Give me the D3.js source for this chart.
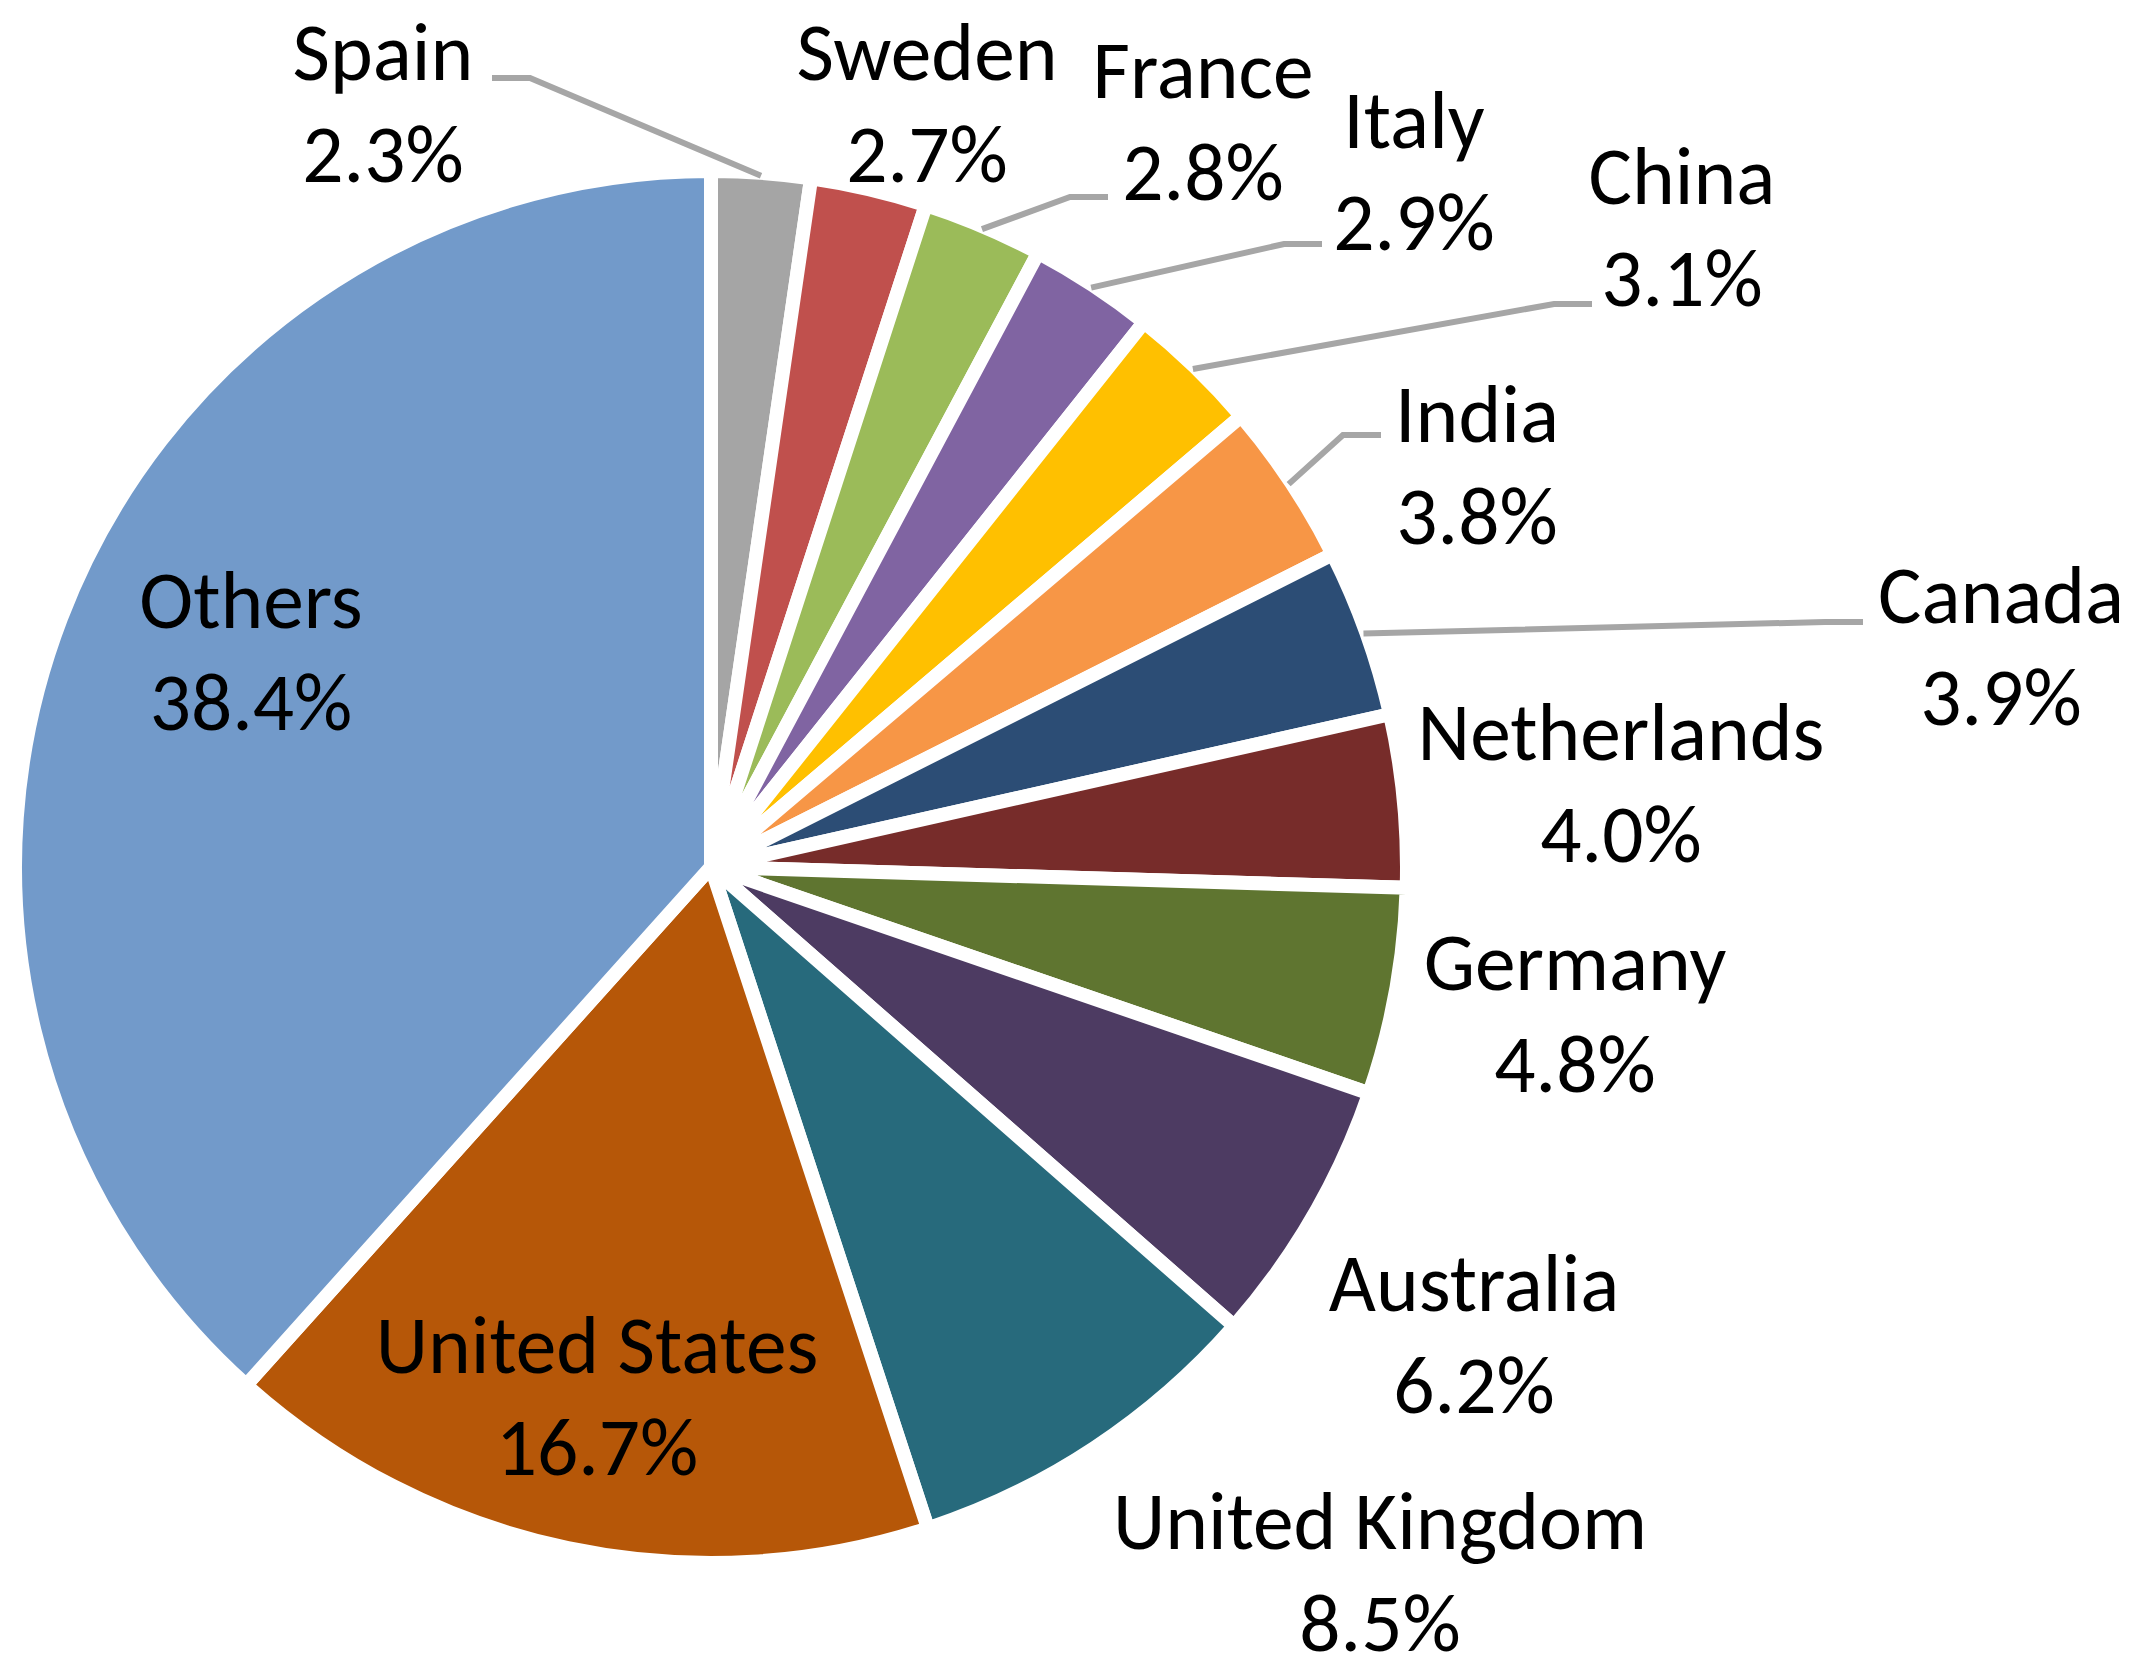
<!DOCTYPE html>
<html><head><meta charset="utf-8">
<script src="https://cdn.jsdelivr.net/npm/d3@7"></script>
<style>html,body{margin:0;padding:0;background:#fff;} svg{display:block}</style>
</head><body>
<script>
// ---- data ----
const categories = ["Spain","Sweden","France","Italy","China","India","Canada","Netherlands","Germany","Australia","United Kingdom","United States","Others"];
const shares = [2.3,2.7,2.8,2.9,3.1,3.8,3.9,4.0,4.8,6.2,8.5,16.7,38.4];
const colors = ["#A5A5A5","#C0504D","#9BBB59","#8064A2","#FFC000","#F79646","#2C4D75","#772C2A","#5F7530","#4D3B62","#276A7C","#B65708","#729ACA"];

// ---- layout (label placement, page px: centre x, first baseline y) ----
const labelX = [383, 927, 1203, 1414, 1682, 1477, 2001, 1621, 1575, 1474, 1380, 597, 251];
const labelY = [80, 80, 98, 148, 204, 442, 623, 760, 990, 1311, 1549, 1373, 628];
// leader lines: [end x, end y, knee direction]
const leaders = {
  "Spain":  [492, 78, 1],
  "France": [1108, 197, -1],
  "Italy":  [1322, 244, -1],
  "China":  [1592, 304, -1],
  "India":  [1381, 435, -1],
  "Canada": [1863, 622, -1]
};

const W = 2138, H = 1680;
const cx = 711, cy = 867, R = 696, strokeW = 14;
const lineGap = 102;

const svg = d3.select("body").append("svg").attr("width", W).attr("height", H);

const data = categories.map((c, i) => ({name: c, value: shares[i], color: colors[i], i}));
const pie = d3.pie().value(d => d.value).sort(null).startAngle(0).endAngle(2 * Math.PI);
const arcs = pie(data);
const arc = d3.arc().innerRadius(0).outerRadius(R);

const g = svg.append("g").attr("transform", `translate(${cx},${cy})`);
g.selectAll("path.slice").data(arcs).join("path")
  .attr("class", "slice")
  .attr("d", arc)
  .attr("fill", d => d.data.color)
  .attr("stroke", "#fff")
  .attr("stroke-width", strokeW)
  .attr("stroke-linejoin", "miter");

// font sizing so that text widths match the original (Calibri-like)
const fontFamily = "Carlito, Calibri, Lato, 'Open Sans', sans-serif";
const probe = svg.append("text").attr("font-family", fontFamily).attr("font-size", 100).text("Netherlands");
const pw = probe.node().getComputedTextLength();
probe.remove();
const fontSize = 100 * 407 / pw;

// leader lines
const lineStartR = R - 3;
const lines = svg.append("g");
arcs.forEach(a => {
  const L = leaders[a.data.name];
  if (!L) return;
  const mid = (a.startAngle + a.endAngle) / 2;
  const sx = cx + lineStartR * Math.sin(mid);
  const sy = cy - lineStartR * Math.cos(mid);
  const knee = [L[0] + L[2] * 38, L[1]];
  lines.append("polyline")
    .attr("points", [[sx, sy], knee, [L[0], L[1]]].map(p => p.join(",")).join(" "))
    .attr("fill", "none")
    .attr("stroke", "#A6A6A6")
    .attr("stroke-width", 6);
});

// labels
const fmt = d3.format(".1f");
const labels = svg.append("g")
  .attr("font-family", fontFamily)
  .attr("font-size", fontSize)
  .attr("fill", "#000")
  .attr("text-anchor", "middle");
arcs.forEach(a => {
  const i = a.data.i;
  const t = labels.append("text").attr("x", labelX[i]).attr("y", labelY[i]);
  t.append("tspan").attr("x", labelX[i]).attr("y", labelY[i]).text(a.data.name);
  t.append("tspan").attr("x", labelX[i]).attr("y", labelY[i] + lineGap).text(fmt(a.data.value) + "%");
});
</script>
</body></html>
